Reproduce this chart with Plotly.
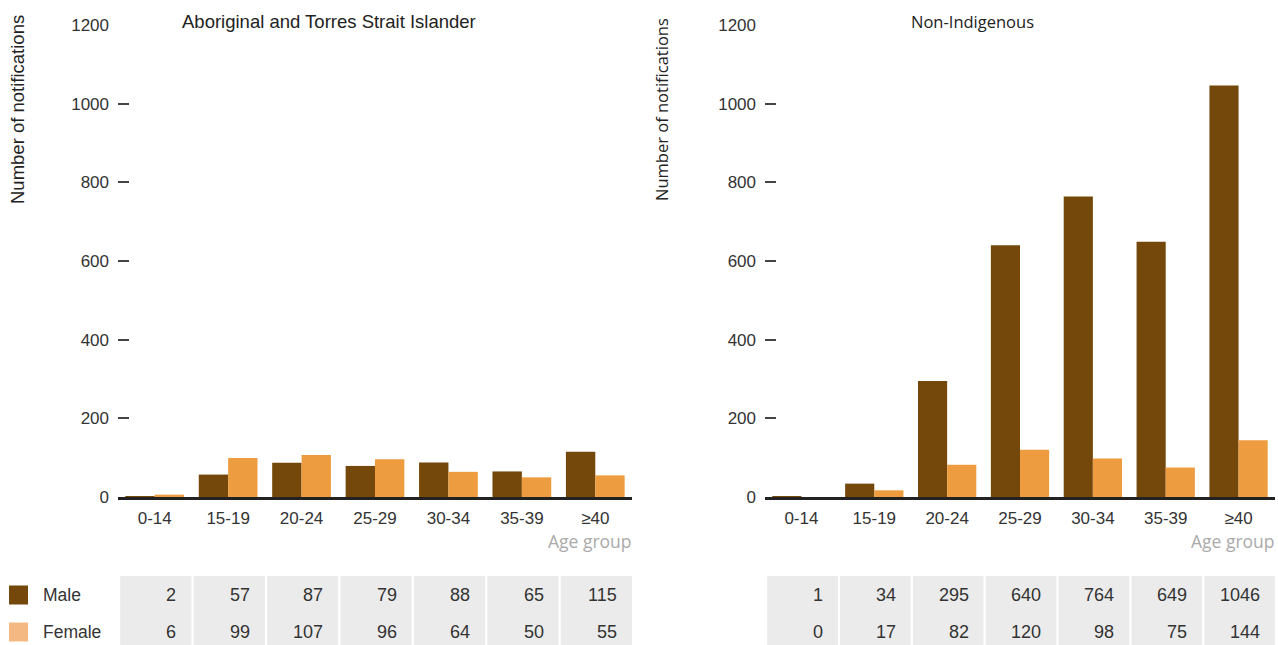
import plotly.graph_objects as go

W, H = 1278, 645

age_groups = ["0-14", "15-19", "20-24", "25-29", "30-34", "35-39", "≥40"]
ati_male = [2, 57, 87, 79, 88, 65, 115]
ati_female = [6, 99, 107, 96, 64, 50, 55]
non_male = [1, 34, 295, 640, 764, 649, 1046]
non_female = [0, 17, 82, 120, 98, 75, 144]
y_ticks = [0, 200, 400, 600, 800, 1000, 1200]

MALE = "#74470A"
FEMALE = "#ED9D40"
MALE_LEG = "#74470A"
FEMALE_LEG = "#F4B982"
TXT = "#333333"
FONT = "Liberation Sans, Arial, sans-serif"
FONT2 = "Open Sans, sans-serif"


def px(x):
    return x / W


def py(y):
    return 1 - y / H


fig = go.Figure()
panels = [("x", "y", ati_male, ati_female), ("x2", "y2", non_male, non_female)]
for xa, ya, m, f in panels:
    fig.add_trace(go.Bar(x=age_groups, y=m, name="Male", marker=dict(color=MALE, line=dict(width=0)),
                         xaxis=xa, yaxis=ya, showlegend=False, hoverinfo="x+y"))
    fig.add_trace(go.Bar(x=age_groups, y=f, name="Female", marker=dict(color=FEMALE, line=dict(width=0)),
                         xaxis=xa, yaxis=ya, showlegend=False, hoverinfo="x+y"))

y0_px, y1_px = 497, 25
domains = [(118, 632), (765, 1275)]

xcommon = dict(type="category", categoryorder="array", categoryarray=age_groups,
               showline=True, linecolor="#222222", linewidth=3, ticks="", showgrid=False,
               zeroline=False, tickfont=dict(family=FONT, size=17, color=TXT),
               ticklabelstandoff=4, fixedrange=True, automargin=False)
ycommon = dict(range=[0, 1200], tickvals=y_ticks, ticks="inside", ticklen=11, tickwidth=1.5,
               tickcolor="#444444", showgrid=False, zeroline=False, showline=False,
               tickfont=dict(family=FONT, size=17, color=TXT), ticklabelstandoff=8,
               domain=[py(y0_px), py(y1_px)], fixedrange=True, automargin=False)

fig.update_layout(
    width=W, height=H,
    margin=dict(l=0, r=0, t=0, b=0, autoexpand=False),
    paper_bgcolor="white", plot_bgcolor="white",
    barmode="group", bargap=0.2, bargroupgap=0,
    xaxis=dict(domain=[px(domains[0][0]), px(domains[0][1])], anchor="y", **xcommon),
    yaxis=dict(anchor="x", **ycommon),
    xaxis2=dict(domain=[px(domains[1][0]), px(domains[1][1])], anchor="y2", **xcommon),
    yaxis2=dict(anchor="x2", **ycommon),
)

ann = []
shapes = []

# Titles
ann.append(dict(text="Aboriginal and Torres Strait Islander", x=px(329), y=py(22), xref="paper", yref="paper",
                showarrow=False, xanchor="center", yanchor="middle",
                font=dict(family=FONT, size=18.5, color="#222222")))
ann.append(dict(text="Non-Indigenous", x=px(972), y=py(22), xref="paper", yref="paper",
                showarrow=False, xanchor="center", yanchor="middle",
                font=dict(family=FONT2, size=16.5, color="#222222")))

# Y axis titles
ann.append(dict(text="Number of notifications", x=px(18), y=py(110), xref="paper", yref="paper",
                showarrow=False, textangle=-90, xanchor="center", yanchor="middle",
                font=dict(family=FONT, size=18.5, color="#222222")))
ann.append(dict(text="Number of notifications", x=px(662), y=py(110), xref="paper", yref="paper",
                showarrow=False, textangle=-90, xanchor="center", yanchor="middle",
                font=dict(family=FONT2, size=16.5, color="#222222")))

# Age group labels
for xr in (634, 1277):
    ann.append(dict(text="Age group", x=px(xr), y=py(541), xref="paper", yref="paper",
                    showarrow=False, xanchor="right", yanchor="middle",
                    font=dict(family=FONT2, size=17.5, color="#AAAAAA")))

# Table cells and values
row_y = [595, 632]
for xa, _, m, f in panels:
    for i in range(len(age_groups)):
        shapes.append(dict(type="rect", xref=xa, yref="paper", x0=i - 0.47, x1=i + 0.5,
                           y0=py(645), y1=py(576), fillcolor="#EBEBEB", line=dict(width=0),
                           layer="below"))
        for vals, yy in ((m, row_y[0]), (f, row_y[1])):
            ann.append(dict(text=str(vals[i]), x=i + 0.5, y=py(yy), xref=xa, yref="paper",
                            xshift=-13, showarrow=False, xanchor="right", yanchor="middle",
                            font=dict(family=FONT, size=18, color=TXT)))

# Legend
for (label, col, yy) in (("Male", MALE_LEG, 595), ("Female", FEMALE_LEG, 632)):
    shapes.append(dict(type="rect", xref="paper", yref="paper", x0=px(9), x1=px(28),
                       y0=py(yy + 9.5), y1=py(yy - 9.5), fillcolor=col, line=dict(width=0)))
    ann.append(dict(text=label, x=px(41), y=py(yy), xref="paper", yref="paper", showarrow=False,
                    xanchor="left", yanchor="middle", font=dict(family=FONT, size=17.5, color=TXT)))

fig.update_layout(annotations=ann, shapes=shapes)
fig.write_html("out.html", config={"displayModeBar": False},
               post_script="document.body.style.margin='0px';")
